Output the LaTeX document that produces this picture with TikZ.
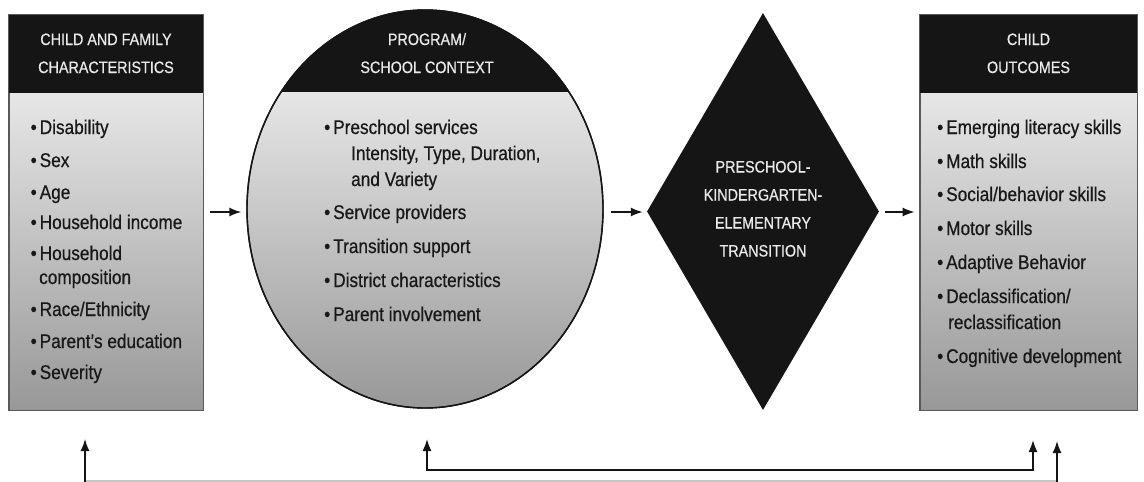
\documentclass[tikz,border=0pt]{standalone}
\usepackage{fontspec}
\setmainfont[FakeStretch=0.87,FakeBold=0.6]{Liberation Sans}
\usetikzlibrary{shapes.geometric,arrows.meta}
\definecolor{ink}{HTML}{151515}
\definecolor{txt}{HTML}{181818}
\definecolor{htxt}{HTML}{EAEAEA}
\definecolor{gtop}{HTML}{FAFAFA}
\definecolor{gmid}{HTML}{D4D4D4}
\definecolor{gbot}{HTML}{989898}
\newcommand{\bl}{\textbullet\hspace{3pt}}
\begin{document}
\begin{tikzpicture}[x=1pt,y=-1pt,
  panel/.style={rectangle, draw=black!65, line width=0.8pt, inner sep=0pt,
    top color=gtop, middle color=gmid, bottom color=gbot},
  oval/.style={ellipse, draw=ink, line width=1.4pt, inner sep=0pt,
    top color=gtop, middle color=gmid, bottom color=gbot},
  dia/.style={diamond, fill=ink, inner sep=0pt},
  hdr/.style={fill=ink},
  htext/.style={text=htxt, font=\fontsize{16.5}{19}\selectfont, anchor=base, inner sep=0pt},
  item/.style={text=txt, font=\fontsize{19.8}{23}\selectfont, anchor=base west, inner sep=0pt},
  arr/.style={draw=ink, line width=1.5pt, -{Latex[length=12pt,width=9pt]}},
  farr/.style={draw=ink, line width=1.7pt, {Latex[length=12pt,width=9pt]}-{Latex[length=12pt,width=9pt]}},
  upar/.style={draw=ink, line width=1.5pt, -{Latex[length=12pt,width=9pt]}}
]
\useasboundingbox (0,0) rectangle (1144,482);
\coordinate (hl) at (0,93);

% left box
\node[panel, minimum width=194pt, minimum height=395pt] (cf) at (106,212.5) {};
\fill[hdr] (cf.north west) rectangle (cf.east |- hl);
\draw[draw=black!65, line width=0.8pt] (cf.north west) rectangle (cf.south east);
\node[htext] (cfh1) at (106,45) {CHILD AND FAMILY};
\node[htext] (cfh2) at (106,73) {CHARACTERISTICS};
\foreach \y/\x/\t [count=\i] in {134/30.5/{\bl Disability}, 167/30.5/{\bl Sex}, 199/30.5/{\bl Age},
  229/30.5/{\bl Household income}, 260/30.5/{\bl Household}, 284/39/{composition},
  316/30.5/{\bl Race/Ethnicity}, 348/30.5/{\bl Parent’s education}, 379/30.5/{\bl Severity}}
  \node[item] (l\i) at (\x,\y) {\t};

% program ellipse
\node[oval, minimum width=356pt, minimum height=398pt] (prog) at (425,209) {};
\begin{scope}
  \clip (prog.center) ellipse [x radius=178pt, y radius=199pt];
  \fill[hdr] (0,0) rectangle (1144,92);
\end{scope}
\draw[draw=ink, line width=1.4pt] (prog.center) ellipse [x radius=178pt, y radius=199pt];
\node[htext] (ph1) at (427,45) {PROGRAM/};
\node[htext] (ph2) at (427,73) {SCHOOL CONTEXT};
\foreach \y/\x/\t [count=\i] in {134/324/{\bl Preschool services}, 160/351/{Intensity, Type, Duration,},
  186/351/{and Variety}, 219/324/{\bl Service providers}, 253/324/{\bl Transition support},
  287/324/{\bl District characteristics}, 321/324/{\bl Parent involvement}}
  \node[item] (p\i) at (\x,\y) {\t};

% diamond
\node[dia, minimum width=232pt, minimum height=397pt] (tr) at (763,211.5) {};
\foreach \y/\t [count=\i] in {172.5/{PRESCHOOL-}, 200.5/{KINDERGARTEN-}, 228.5/{ELEMENTARY}, 256.5/{TRANSITION}}
  \node[htext] (d\i) at (763,\y) {\t};

% right box
\node[panel, minimum width=217pt, minimum height=395pt] (co) at (1028.5,212.5) {};
\fill[hdr] (co.north west) rectangle (co.east |- hl);
\draw[draw=black!65, line width=0.8pt] (co.north west) rectangle (co.south east);
\node[htext] (coh1) at (1028.5,45) {CHILD};
\node[htext] (coh2) at (1028.5,73) {OUTCOMES};
\foreach \y/\x/\t [count=\i] in {134/937/{\bl Emerging literacy skills}, 168/937/{\bl Math skills},
  201/937/{\bl Social/behavior skills}, 235/937/{\bl Motor skills}, 269/937/{\bl Adaptive Behavior},
  303/937/{\bl Declassification/}, 329/948/{reclassification}, 363/937/{\bl Cognitive development}}
  \node[item] (r\i) at (\x,\y) {\t};

% forward arrows
\coordinate (ay) at (0,212);
\draw[arr, shorten <=7pt, shorten >=5pt] (cf.east |- ay) -- (prog.west |- ay);
\draw[arr, shorten <=7pt, shorten >=4pt] (prog.east |- ay) -- (tr.west |- ay);
\draw[arr, shorten <=6pt, shorten >=5pt] (tr.east |- ay) -- (co.west |- ay);

% feedback connectors
\coordinate (b1) at (85,482);
\coordinate (b2) at (1057,482);
\coordinate (t1) at (85,439);
\coordinate (t2) at (1057,441);
\coordinate (pl) at (427,439);
\coordinate (pr) at (1033,440);
\coordinate (hy) at (0,470);
\draw[gray!45, line width=1.5pt] (85,481) -- (1057,481);
\draw[upar] (b1) -- (t1);
\draw[upar] (b2) -- (t2);
\draw[farr] (pl) -- (pl |- hy) -- (pr |- hy) -- (pr);
\end{tikzpicture}
\end{document}
